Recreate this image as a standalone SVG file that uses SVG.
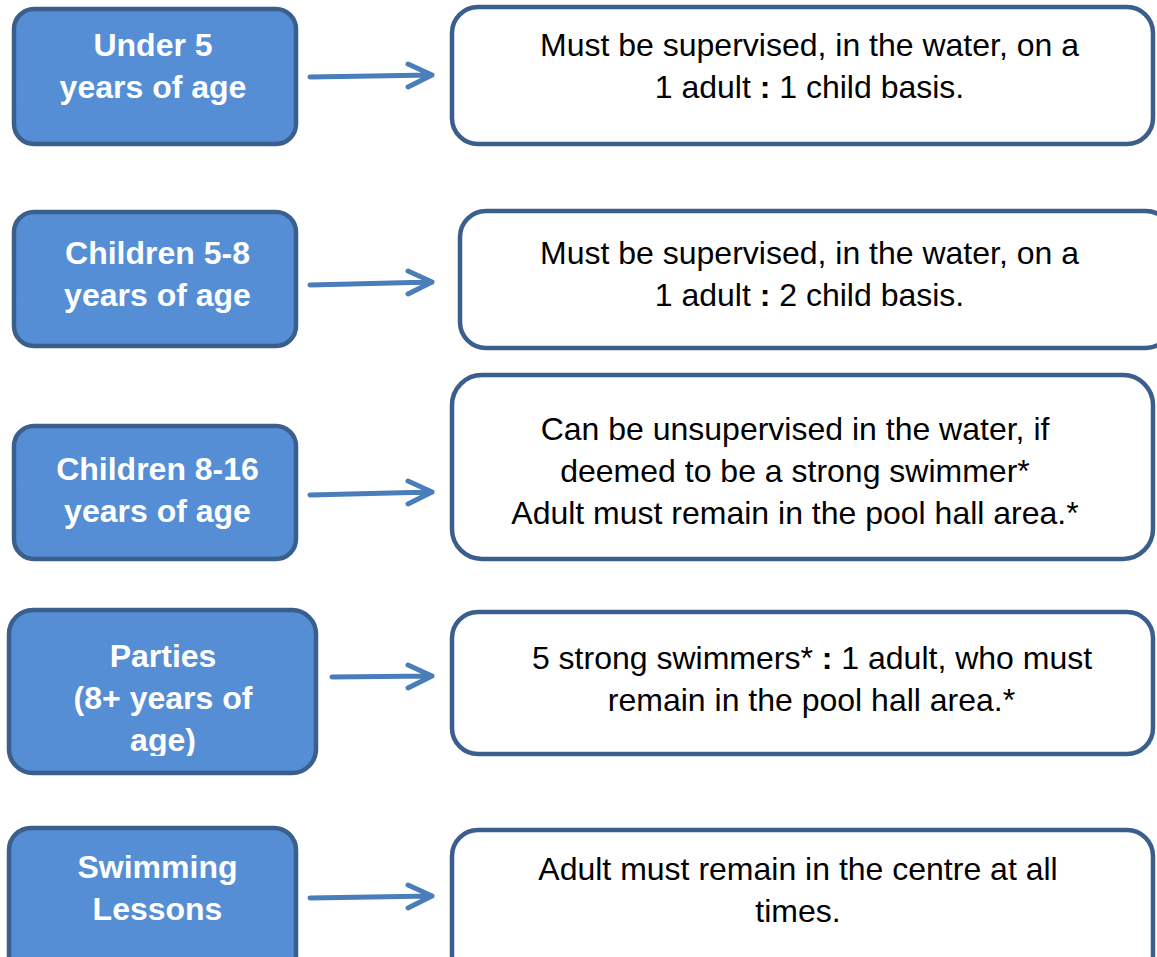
<svg xmlns="http://www.w3.org/2000/svg" width="1157" height="957" viewBox="0 0 1157 957">
  <style>
    .lbox { fill: #558ed5; stroke: #3b5f8d; stroke-width: 4.5; }
    .rbox { fill: #ffffff; stroke: #3b5f8d; stroke-width: 4.5; }
    .ltxt { font-family: "Liberation Sans", Arial, sans-serif; font-size: 32px; font-weight: bold; fill: #ffffff; text-anchor: middle; }
    .rtxt { font-family: "Liberation Sans", Arial, sans-serif; font-size: 32px; fill: #000000; text-anchor: middle; }
    .b { font-weight: bold; }
    .arr { fill: none; stroke: #4a7ebb; stroke-width: 5; stroke-linecap: round; stroke-linejoin: round; }
  </style>
  <defs>
    <clipPath id="clipParties"><rect x="0" y="600" width="330" height="156"/></clipPath>
  </defs>
  <rect width="1157" height="957" fill="#ffffff"/>

  <g id="node-under5">
    <rect class="lbox" x="14" y="9" width="282" height="135" rx="20"/>
    <text class="ltxt" x="153" y="56">Under 5</text>
    <text class="ltxt" x="153" y="98">years of age</text>
  </g>
  <g id="node-under5-rule">
    <rect class="rbox" x="452" y="7" width="701" height="137" rx="26"/>
    <text class="rtxt" x="809.5" y="56">Must be supervised, in the water, on a</text>
    <text class="rtxt" x="809.5" y="98">1 adult <tspan class="b">:</tspan> 1 child basis.</text>
  </g>

  <g id="node-children5-8">
    <rect class="lbox" x="14" y="212" width="282" height="134" rx="20"/>
    <text class="ltxt" x="157.5" y="264">Children 5-8</text>
    <text class="ltxt" x="157.5" y="306">years of age</text>
  </g>
  <g id="node-children5-8-rule">
    <rect class="rbox" x="460" y="211" width="712" height="137" rx="26"/>
    <text class="rtxt" x="809.5" y="264">Must be supervised, in the water, on a</text>
    <text class="rtxt" x="809.5" y="306">1 adult <tspan class="b">:</tspan> 2 child basis.</text>
  </g>

  <g id="node-children8-16">
    <rect class="lbox" x="14" y="426" width="282" height="133" rx="20"/>
    <text class="ltxt" x="157.5" y="480">Children 8-16</text>
    <text class="ltxt" x="157.5" y="522">years of age</text>
  </g>
  <g id="node-children8-16-rule">
    <rect class="rbox" x="452" y="375" width="701" height="184" rx="30"/>
    <text class="rtxt" x="795" y="440">Can be unsupervised in the water, if</text>
    <text class="rtxt" x="795" y="482">deemed to be a strong swimmer*</text>
    <text class="rtxt" x="795" y="524">Adult must remain in the pool hall area.*</text>
  </g>

  <g id="node-parties">
    <rect class="lbox" x="9" y="610" width="307" height="163" rx="24"/>
    <g clip-path="url(#clipParties)">
      <text class="ltxt" x="163" y="667">Parties</text>
      <text class="ltxt" x="163" y="709">(8+ years of</text>
      <text class="ltxt" x="163" y="751">age)</text>
    </g>
  </g>
  <g id="node-parties-rule">
    <rect class="rbox" x="452" y="612" width="701" height="142" rx="26"/>
    <text class="rtxt" x="812" y="669">5 strong swimmers* <tspan class="b">:</tspan> 1 adult, who must</text>
    <text class="rtxt" x="811.5" y="711">remain in the pool hall area.*</text>
  </g>

  <g id="node-lessons">
    <rect class="lbox" x="9" y="828" width="287" height="160" rx="22"/>
    <text class="ltxt" x="157.5" y="878">Swimming</text>
    <text class="ltxt" x="157.5" y="920">Lessons</text>
  </g>
  <g id="node-lessons-rule">
    <rect class="rbox" x="452" y="830" width="701" height="160" rx="26"/>
    <text class="rtxt" x="798" y="880">Adult must remain in the centre at all</text>
    <text class="rtxt" x="798" y="922">times.</text>
  </g>

  <g id="connectors">
    <path class="arr" d="M310 77 L432 75 M408 64 L432 75 L408 87"/>
    <path class="arr" d="M310 285 L432 282 M408 271 L432 282 L408 294"/>
    <path class="arr" d="M310 495 L432 492 M408 481 L432 492 L408 504"/>
    <path class="arr" d="M332 677 L432 676 M408 665 L432 676 L408 688"/>
    <path class="arr" d="M310 898 L432 896 M408 885 L432 896 L408 908"/>
  </g>
</svg>
